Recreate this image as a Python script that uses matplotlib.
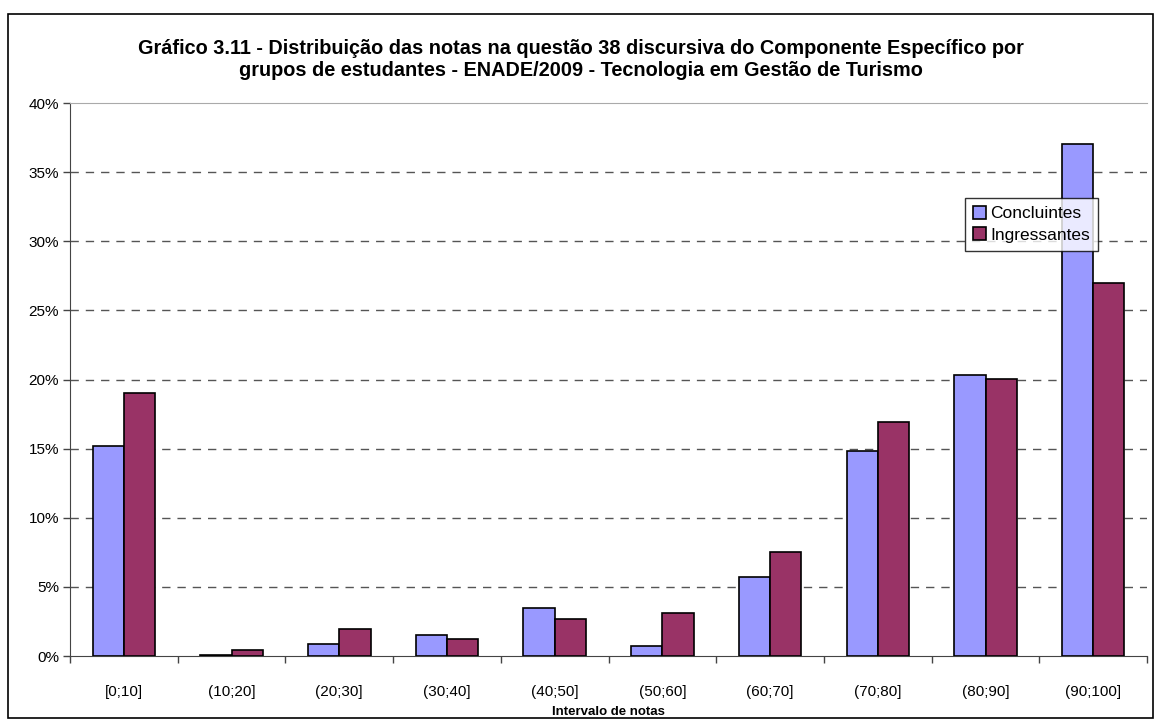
import numpy as np
import matplotlib
matplotlib.use("Agg")
import matplotlib.pyplot as plt
from matplotlib.patches import Rectangle
from matplotlib.ticker import FuncFormatter, FixedLocator

plt.rcParams['font.family'] = ['Liberation Sans', 'DejaVu Sans']

categories = ["[0;10]", "(10;20]", "(20;30]", "(30;40]", "(40;50]",
              "(50;60]", "(60;70]", "(70;80]", "(80;90]", "(90;100]"]
concluintes = [15.2, 0.1, 0.85, 1.5, 3.5, 0.75, 5.75, 14.85, 20.35, 37.05]
ingressantes = [19.0, 0.45, 1.95, 1.2, 2.65, 3.1, 7.55, 16.9, 20.05, 27.0]

title_lines = ["Gráfico 3.11 - Distribuição das notas na questão 38 discursiva do Componente Específico por",
               "grupos de estudantes - ENADE/2009 - Tecnologia em Gestão de Turismo"]

fig = plt.figure(figsize=(11.61, 7.24), dpi=100)
ax = fig.add_axes([0.0603, 0.0939, 0.9277, 0.7638])

x = np.arange(len(categories))
w = 0.29
ax.bar(x - w / 2, concluintes, w, color="#9999ff", edgecolor="black", linewidth=1.2,
       label="Concluintes", zorder=3)
ax.bar(x + w / 2, ingressantes, w, color="#993366", edgecolor="black", linewidth=1.2,
       label="Ingressantes", zorder=3)

ax.set_xlim(-0.5, len(categories) - 0.5)
ax.set_ylim(0, 40)
ax.set_yticks(np.arange(0, 41, 5))
ax.yaxis.set_major_formatter(FuncFormatter(lambda v, p: f"{v:.0f}%"))
for v in range(5, 40, 5):
    ax.axhline(v, color="#555555", linestyle=(0, (6, 5)), linewidth=1.0, zorder=1)

ax.set_xticks(x)
ax.set_xticklabels(categories, fontsize=11)
ax.tick_params(axis="x", length=0, pad=21)
ax.xaxis.set_minor_locator(FixedLocator(np.arange(-0.5, len(categories), 1)))
ax.tick_params(axis="x", which="minor", length=5, width=1, color="#444444", direction="out")
ax.tick_params(axis="y", labelsize=11, length=5, width=1, color="#444444", direction="out", pad=3)

ax.spines["right"].set_visible(False)
ax.spines["top"].set_color("#aaaaaa")
ax.spines["left"].set_color("#444444")
ax.spines["bottom"].set_color("#444444")

ax.set_xlabel("Intervalo de notas", fontsize=9.5, fontweight="bold", labelpad=5)

fig.text(0.5, 0.9337, title_lines[0], ha="center", va="center", fontsize=14.3, fontweight="bold")
fig.text(0.5, 0.9033, title_lines[1], ha="center", va="center", fontsize=14.3, fontweight="bold")

leg = ax.legend(loc="upper left", bbox_to_anchor=(0.831, 0.828), frameon=True, fancybox=False,
                edgecolor="black", fontsize=12.5, handlelength=0.75, handleheight=0.75,
                handletextpad=0.25, borderpad=0.45, labelspacing=0.35, borderaxespad=0)
leg.get_frame().set_linewidth(1.0)

fig.patches.append(Rectangle((0.007, 0.008), 0.986, 0.972, transform=fig.transFigure,
                             fill=False, edgecolor="black", linewidth=1.2))

fig.savefig("out.png", dpi=100)
